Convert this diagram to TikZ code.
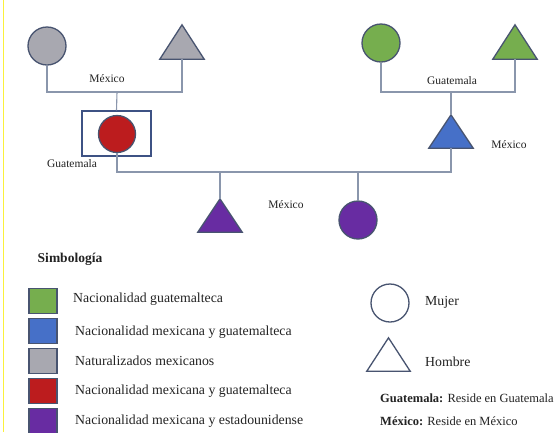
\documentclass[tikz,border=0pt]{standalone}
\usepackage{fontspec}
\setmainfont{Liberation Serif}
\definecolor{outl}{RGB}{72,84,112}
\definecolor{conn}{RGB}{138,150,172}
\definecolor{cgray}{RGB}{168,168,176}
\definecolor{cgreen}{RGB}{118,174,78}
\definecolor{cblue}{RGB}{70,112,200}
\definecolor{cred}{RGB}{188,28,30}
\definecolor{cpurple}{RGB}{104,44,162}
\definecolor{boxc}{RGB}{62,82,132}
\definecolor{txt}{RGB}{35,35,35}
\definecolor{edge}{RGB}{250,240,60}
\tikzset{
  person/.style={circle, draw=outl, line width=1.3pt, minimum size=38pt, inner sep=0pt},
  tribox/.style={rectangle, draw=none, minimum width=44pt, minimum height=34pt, inner sep=0pt},
  tri/.style={draw=outl, line width=1.3pt, line join=miter},
  conline/.style={draw=conn, line width=1.1pt},
  lbl/.style={text=txt, font=\fontsize{11.5}{13}\selectfont, inner sep=0pt},
  legtxt/.style={text=txt, font=\fontsize{13.8}{16}\selectfont, anchor=west, inner sep=0pt},
  legsub/.style={text=txt, font=\fontsize{12.5}{15}\selectfont, anchor=west, inner sep=0pt},
  swatch/.style={rectangle, draw=outl, line width=1.1pt, minimum width=28pt, minimum height=25pt, inner sep=0pt}
}
\newcommand\mytri[3]{%
  \node[tribox] (#1) at (#2) {};
  \draw[tri, fill=#3] (#1.south west) -- (#1.south east) -- (#1.north) -- cycle;}
\begin{document}
\begin{tikzpicture}[x=1pt,y=-1pt]
\useasboundingbox (0,0) rectangle (555,432);
\fill[white] (0,0) rectangle (555,432);
\draw[edge, line width=1pt] (3.5,0) -- (3.5,432);

% generation 1
\node[person, fill=cgray] (gc) at (47,46) {};
\mytri{gt}{182,42}{cgray}
\node[person, fill=cgreen] (grc) at (381,43) {};
\mytri{grt}{515,42}{cgreen}

% generation 2
\node[rectangle, draw=boxc, line width=1.3pt, minimum width=69pt, minimum height=45pt, inner sep=0pt] (box) at (116.5,133.5) {};
\node[person, fill=cred, minimum size=37pt] (rc) at (117,134) {};
\node[tribox, minimum height=33pt] (bt) at (451,131.5) {};
\draw[tri, fill=cblue] (bt.south west) -- (bt.south east) -- (bt.north) -- cycle;

% generation 3
\node[tribox, minimum height=33pt] (pt) at (220,215.5) {};
\draw[tri, fill=cpurple] (pt.south west) -- (pt.south east) -- (pt.north) -- cycle;
\node[person, fill=cpurple] (pc) at (358,220) {};

% junctions
\coordinate (m1) at (117,92);
\coordinate (m4) at (451,92);
\coordinate (m2) at (220,172);
\coordinate (m3) at (358,172);

% connectors
\draw[conline] (gc.south) |- (m1) -| (gt.south);
\draw[conline] (m1) -- (box.north);
\draw[conline] (grc.south) |- (m4) -| (grt.south);
\draw[conline] (m4) -- (bt.north);
\draw[conline] (rc.south) |- (m2) -- (m3) -| (bt.south);
\draw[conline] (m2) -- (pt.north);
\draw[conline] (m3) -- (pc.north);

% labels
\node[lbl] (l1) at (107,79) {México};
\node[lbl] (l2) at (72,164) {Guatemala};
\node[lbl] (l3) at (452,81) {Guatemala};
\node[lbl] (l4) at (509,145) {México};
\node[lbl] (l5) at (286,205) {México};

% legend
\node[text=txt, font=\fontsize{13.5}{16}\selectfont\bfseries, inner sep=0pt] (sim) at (70,259) {Simbología};
\node[swatch, fill=cgreen] (s1) at (43,301) {};
\node[swatch, fill=cblue] (s2) at (43,331) {};
\node[swatch, fill=cgray] (s3) at (43,361) {};
\node[swatch, fill=cred] (s4) at (43,391) {};
\node[swatch, fill=cpurple] (s5) at (43,421) {};
\node[legtxt] (t1) at (73,299) {Nacionalidad guatemalteca};
\node[legtxt] (t2) at (75,332) {Nacionalidad mexicana y guatemalteca};
\node[legtxt] (t3) at (75,361) {Naturalizados mexicanos};
\node[legtxt] (t4) at (75,391) {Nacionalidad mexicana y guatemalteca};
\node[legtxt] (t5) at (75,421) {Nacionalidad mexicana y estadounidense};

\node[person, fill=white] (lc) at (390,303) {};
\node[tribox, minimum width=43pt, minimum height=33pt] (lt) at (388.5,354.5) {};
\draw[tri, fill=white] (lt.south west) -- (lt.south east) -- (lt.north) -- cycle;
\node[legtxt] (mu) at (425,302) {Mujer};
\node[legtxt] (ho) at (425,362) {Hombre};
\node[legsub] (g1) at (380,398) {\textbf{Guatemala:} Reside en Guatemala};
\node[legsub] (g2) at (380,421) {\textbf{México:} Reside en México};
\end{tikzpicture}
\end{document}
